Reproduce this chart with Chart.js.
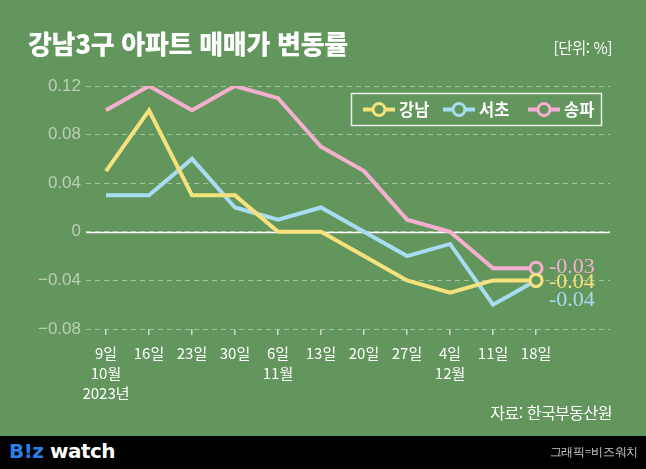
<!DOCTYPE html>
<html lang="ko">
<head>
<meta charset="utf-8">
<script src="https://cdn.jsdelivr.net/npm/chart.js@4.4.0/dist/chart.umd.min.js"></script>
<style>
  body { margin: 0; background: #000; }
  #wrap { position: relative; width: 646px; height: 436px; background: #62965c; font-family: "Noto Sans CJK KR", sans-serif; }
  #c { position: absolute; left: 0; top: 0; }
  .title { position: absolute; left: 28px; top: 24px; color: #fff; font-size: 26px; font-weight: 900; letter-spacing: -0.3px; }
  .unit { position: absolute; right: 34px; top: 36px; color: #fff; font-size: 15.5px; letter-spacing: -0.5px; }
  .src { position: absolute; right: 34px; top: 400px; color: #fff; font-size: 16px; letter-spacing: -0.5px; }
  #foot { position: relative; width: 646px; height: 33px; background: #000; }
  .logo { position: absolute; left: 9px; top: 3px; font-family: "DejaVu Sans", sans-serif; font-weight: bold; font-size: 20px; color: #fff; letter-spacing: -0.5px; }
  .logo b { color: #2b7fe6; }
  .credit { position: absolute; right: 8px; top: 8px; color: #ccc; font-size: 12px; letter-spacing: -0.3px; }
</style>
</head>
<body>
<div id="wrap">
  <canvas id="c" width="646" height="436"></canvas>
  <div class="title">강남3구 아파트 매매가 변동률</div>
  <div class="unit">[단위: %]</div>
  <div class="src">자료: 한국부동산원</div>
</div>
<div id="foot">
  <div class="logo"><b>B!z</b> watch</div>
  <div class="credit">그래픽=비즈워치</div>
</div>
<script>
// 주간 변동률 (2023년 10월 9일 ~ 12월 18일)
const xLabels = [
  ['9일', '10월', '2023년'], ['16일'], ['23일'], ['30일'],
  ['6일', '11월'], ['13일'], ['20일'], ['27일'],
  ['4일', '12월'], ['11일'], ['18일']
];
const seriesNames = ['강남', '서초', '송파'];
const gangnam = [0.05, 0.10, 0.03, 0.03, 0, 0, -0.02, -0.04, -0.05, -0.04, -0.04];
const seocho  = [0.03, 0.03, 0.06, 0.02, 0.01, 0.02, 0, -0.02, -0.01, -0.06, -0.04];
const songpa  = [0.10, 0.12, 0.10, 0.12, 0.11, 0.07, 0.05, 0.01, 0, -0.03, -0.03];
const yTicks = [-0.08, -0.04, 0, 0.04, 0.08, 0.12];

const BG = '#62965c';
const colors = ['#f5e27d', '#a8dcf2', '#f6afd1'];
const last = gangnam.length - 1;

function fmt(v) {
  if (Math.abs(v) < 1e-9) return '0';
  return (v < 0 ? '\u2212' : '') + Math.abs(v).toFixed(2);
}

function makeSet(name, values, color) {
  return {
    label: name,
    data: values.map((v, i) => ({ x: i, y: v })),
    borderColor: color,
    borderWidth: 4,
    tension: 0,
    pointRadius: ctx => ctx.dataIndex === last ? 6 : 0,
    pointHoverRadius: ctx => ctx.dataIndex === last ? 6 : 0,
    pointBorderWidth: 3,
    pointBorderColor: color,
    pointBackgroundColor: BG
  };
}

// 0 기준선
const zeroLine = {
  id: 'zeroLine',
  beforeDatasetsDraw(chart) {
    const { ctx, chartArea, scales } = chart;
    const y = Math.round(scales.y.getPixelForValue(0)) + 0.5;
    ctx.save();
    ctx.strokeStyle = '#ffffff';
    ctx.lineWidth = 1.5;
    ctx.beginPath();
    ctx.moveTo(chartArea.left, y);
    ctx.lineTo(chartArea.right, y);
    ctx.stroke();
    ctx.restore();
  }
};

// 마지막 값 라벨
const endLabels = {
  id: 'endLabels',
  afterDatasetsDraw(chart) {
    const { ctx } = chart;
    const dy = [2, 20, -1];
    ctx.save();
    ctx.font = '22px "Liberation Serif", serif';
    ctx.textBaseline = 'middle';
    chart.data.datasets.forEach((ds, i) => {
      const pt = chart.getDatasetMeta(i).data[last];
      const v = ds.data[last].y;
      ctx.fillStyle = colors[i];
      ctx.fillText((v < 0 ? '-' : '') + Math.abs(v).toFixed(2), pt.x + 13, pt.y + dy[i]);
    });
    ctx.restore();
  }
};

// 범례
const boxLegend = {
  id: 'boxLegend',
  afterDraw(chart) {
    const { ctx } = chart;
    ctx.save();
    ctx.strokeStyle = '#e8efe6';
    ctx.lineWidth = 1.5;
    ctx.strokeRect(351.5, 93.5, 250, 32);
    const xs = [363, 443, 528];
    const y = 109.5;
    ctx.font = 'bold 16.5px "Noto Sans CJK KR", sans-serif';
    ctx.textBaseline = 'middle';
    seriesNames.forEach((name, i) => {
      ctx.strokeStyle = colors[i];
      ctx.lineWidth = 4;
      ctx.beginPath();
      ctx.moveTo(xs[i], y);
      ctx.lineTo(xs[i] + 32, y);
      ctx.stroke();
      ctx.lineWidth = 3;
      ctx.fillStyle = BG;
      ctx.beginPath();
      ctx.arc(xs[i] + 16, y, 6, 0, Math.PI * 2);
      ctx.fill();
      ctx.stroke();
      ctx.fillStyle = '#ffffff';
      ctx.fillText(name, xs[i] + 36, y);
    });
    ctx.restore();
  }
};

new Chart(document.getElementById('c'), {
  type: 'line',
  data: {
    datasets: [
      makeSet(seriesNames[0], gangnam, colors[0]),
      makeSet(seriesNames[1], seocho, colors[1]),
      makeSet(seriesNames[2], songpa, colors[2])
    ]
  },
  options: {
    responsive: false,
    animation: false,
    layout: { padding: { top: 86, right: 36, left: 0, bottom: 27 } },
    plugins: { legend: { display: false }, tooltip: { enabled: false } },
    scales: {
      x: {
        type: 'linear',
        min: -0.465,
        max: 11.72,
        afterFit: s => { s.height = 80; },
        afterBuildTicks: s => { s.ticks = s.ticks.filter(t => Number.isInteger(t.value) && t.value >= 0 && t.value <= last); },
        border: { display: false },
        grid: { drawOnChartArea: false, drawTicks: true, tickLength: 6, color: '#c9dbc5', lineWidth: 1.5 },
        ticks: {
          stepSize: 1,
          includeBounds: false,
          autoSkip: false,
          maxRotation: 0,
          padding: 8,
          color: '#ffffff',
          font: { family: '"Noto Sans CJK KR", sans-serif', size: 15, lineHeight: 1.33 },
          callback: v => xLabels[v] || ''
        }
      },
      y: {
        min: yTicks[0],
        max: yTicks[yTicks.length - 1],
        afterFit: s => { s.width = 86; },
        border: { display: false, dash: [5, 4] },
        grid: { drawTicks: false, color: '#a5c19f', lineWidth: 1 },
        ticks: {
          stepSize: 0.04,
          padding: 5,
          color: '#b9d0b4',
          font: { family: '"Liberation Sans", sans-serif', size: 17 },
          callback: v => fmt(v)
        }
      }
    }
  },
  plugins: [zeroLine, endLabels, boxLegend]
});
</script>
</body>
</html>
